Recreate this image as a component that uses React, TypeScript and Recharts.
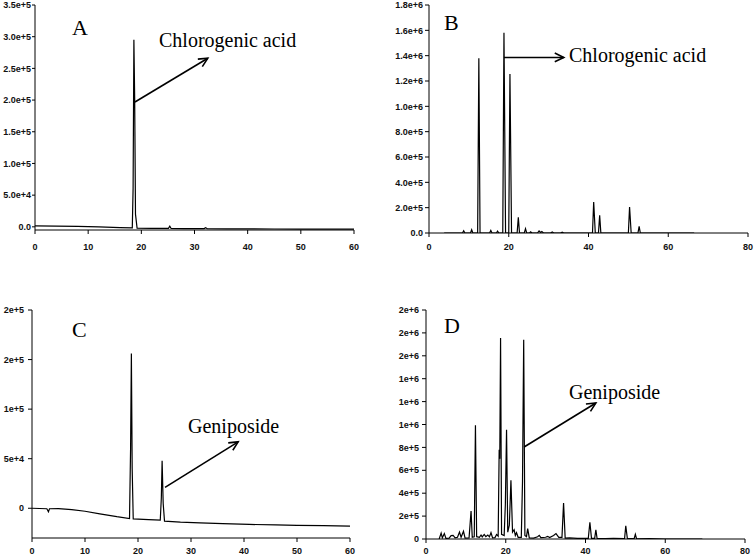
import React from 'react';
import { LineChart, Line, XAxis, YAxis, ReferenceLine } from 'recharts';

// retention time (min) and signal
const aTime = [0, 4, 8, 12, 16, 18.3, 18.45, 18.6, 18.75, 18.9, 19.2, 22, 25.1, 25.35, 25.6, 28, 31.8, 32.1, 32.4, 36, 40, 45, 50, 55, 60];
const aSignal = [1500, 1200, 600, -200, -1200, -1500, 60000, 295000, 200000, 20000, -2000, -2300, -2300, 1000, -2600, -2700, -2800, -1500, -3000, -3200, -3300, -3400, -3500, -3600, -3700];

const bTime = [3.8, 8.4, 8.7, 9.0, 10.4, 10.7, 11.0, 12.2, 12.5, 12.8, 15.2, 15.5, 15.8, 16.9, 17.2, 17.5, 18.5, 18.8, 19.2, 20.0, 20.3, 20.7, 22.1, 22.4, 22.7, 23.9, 24.2, 24.5, 25.2, 25.5, 25.8, 27.2, 27.6, 28.0, 28.3, 28.7, 30.5, 30.9, 31.3, 33.0, 33.4, 33.8, 41.0, 41.3, 41.7, 42.5, 42.8, 43.1, 50.0, 50.3, 50.7, 52.4, 52.7, 53.0, 66.5];
const bSignal = [0, 0, 18000, 0, 0, 26000, 0, 0, 1380000, 0, 0, 21000, 0, 0, 15000, 0, 0, 1580000, 0, 0, 1255000, 0, 0, 123000, 0, 0, 34000, 0, 0, 9000, 0, 0, 16000, 4000, 12000, 0, 0, 8000, 0, 0, 6000, 0, 0, 244000, 0, 0, 139000, 0, 0, 205000, 0, 0, 52000, 0, 0];

const cTime = [0, 2.8, 3.1, 3.3, 5, 7.5, 10, 12.8, 16, 18.4, 18.6, 18.75, 18.9, 19.1, 22, 24.2, 24.4, 24.55, 24.75, 25, 28, 31.7, 36, 41, 46, 50, 55, 60];
const cSignal = [0, -500, -3500, -500, -300, -1300, -3000, -5700, -8500, -10300, 60000, 156000, 40000, -10700, -11500, -12000, 10000, 48000, 5000, -13000, -14000, -14700, -15500, -16300, -16800, -17200, -17600, -18000];

const dTime = [3.3, 3.8, 4.1, 4.6, 5.0, 5.8, 6.3, 6.8, 7.3, 7.9, 8.4, 8.8, 9.4, 9.8, 10.8, 11.3, 11.6, 12.1, 12.4, 12.7, 13.4, 13.8, 14.1, 14.6, 15.0, 15.5, 15.9, 16.3, 16.7, 17.3, 17.7, 18.1, 18.35, 18.5, 18.7, 18.95, 19.6, 19.9, 20.2, 20.5, 20.9, 21.3, 21.7, 22.1, 22.4, 22.7, 23.1, 23.9, 24.2, 24.5, 24.8, 25.2, 25.5, 25.9, 27, 28.0, 28.4, 28.8, 30.0, 30.5, 31.0, 32.0, 32.6, 33.3, 34.1, 34.5, 34.9, 36, 38, 40.7, 41.1, 41.5, 42.3, 42.6, 42.9, 45, 47, 49.8, 50.1, 50.5, 52.2, 52.5, 52.8, 56, 60, 69.3];
const dSignal = [0, 52000, 10000, 47000, 5000, 8000, 30000, 32000, 10000, 15000, 61000, 15000, 67000, 8000, 10000, 245000, 15000, 20000, 993000, 20000, 15000, 35000, 18000, 40000, 20000, 35000, 18000, 55000, 10000, 12000, 40000, 25000, 780000, 700000, 1755000, 40000, 30000, 300000, 955000, 60000, 120000, 512000, 60000, 81000, 30000, 55000, 15000, 15000, 500000, 1741000, 30000, 20000, 90000, 10000, 8000, 20000, 32000, 12000, 15000, 23000, 12000, 30000, 47000, 15000, 15000, 314000, 8000, 10000, 5000, 5000, 146000, 5000, 5000, 81000, 5000, 3000, 5000, 3000, 116000, 3000, 3000, 41000, 2000, 3000, 0, 0];

const ticks60 = [0, 10, 20, 30, 40, 50, 60];
const ticks80 = [0, 20, 40, 60, 80];
const aTicks = [0, 50000, 100000, 150000, 200000, 250000, 300000, 350000];
const bTicks = [0, 200000, 400000, 600000, 800000, 1000000, 1200000, 1400000, 1600000, 1800000];
const cTicks = [0, 50000, 100000, 150000, 200000];
const dTicks = [0, 200000, 400000, 600000, 800000, 1000000, 1200000, 1400000, 1600000, 1800000, 2000000];

const toRows = (t: number[], s: number[]) => t.map((x, i) => ({ t: x, v: s[i] }));

const fmt1 = (v: number) => (v === 0 ? '0.0' : v.toExponential(1));
const fmt0 = (v: number) => (v === 0 ? '0' : v.toExponential(0));

const tickFont = { fontSize: 9, fontWeight: 700, fill: '#111', fontFamily: 'Liberation Sans, Arial, sans-serif' };

// line with an open arrow head at the far end
const Arrow = (p: any) => {
  const { x1, y1, x2, y2 } = p;
  const ang = Math.atan2(y2 - y1, x2 - x1);
  const len = 10;
  const spread = 0.45;
  const h1x = x2 - len * Math.cos(ang - spread);
  const h1y = y2 - len * Math.sin(ang - spread);
  const h2x = x2 - len * Math.cos(ang + spread);
  const h2y = y2 - len * Math.sin(ang + spread);
  return (
    <g stroke="#000" strokeWidth={1.6} fill="none">
      <line x1={x1} y1={y1} x2={x2} y2={y2} />
      <polyline points={`${h1x},${h1y} ${x2},${y2} ${h2x},${h2y}`} />
    </g>
  );
};

interface PanelProps {
  left: number; top: number; width: number; height: number;
  margin: { top: number; right: number; left: number; bottom: number };
  yWidth: number; xHeight: number;
  data: { t: number; v: number }[];
  xDomain: [number, number]; xTicks: number[];
  yDomain: [number, number]; yTicks: number[];
  fmt: (v: number) => string;
  xGap: number; yTick: number; yGap: number;
  arrow: [{ x: number; y: number }, { x: number; y: number }];
}

const Panel: React.FC<PanelProps> = (p) => (
  <div style={{ position: 'absolute', left: p.left, top: p.top }}>
    <LineChart width={p.width} height={p.height} data={p.data} margin={p.margin}>
      <XAxis dataKey="t" type="number" domain={p.xDomain} ticks={p.xTicks} allowDataOverflow
        axisLine={{ stroke: '#000' }} tickLine={{ stroke: '#000' }} tickSize={4} tickMargin={p.xGap}
        height={p.xHeight} tick={tickFont} />
      <YAxis type="number" domain={p.yDomain} ticks={p.yTicks} allowDataOverflow width={p.yWidth}
        axisLine={{ stroke: '#000' }} tickLine={{ stroke: '#000' }} tickSize={p.yTick} tickMargin={p.yGap}
        tickFormatter={p.fmt} tick={tickFont} interval={0} />
      <Line type="linear" dataKey="v" stroke="#000" strokeWidth={1.2} dot={false} isAnimationActive={false} />
      <ReferenceLine segment={p.arrow} shape={Arrow} />
    </LineChart>
  </div>
);

const serif = 'Liberation Serif, Times New Roman, serif';

export default function App() {
  return (
    <div style={{ position: 'absolute', left: 0, top: 0, width: 756, height: 558, background: '#fff', overflow: 'hidden' }}>
      <Panel left={0} top={0} width={360} height={258} margin={{ top: 5, right: 6, left: 0, bottom: 0 }}
        yWidth={35} xHeight={28} data={toRows(aTime, aSignal)} xDomain={[0, 60]} xTicks={ticks60}
        yDomain={[-5000, 350000]} yTicks={aTicks} fmt={fmt1} xGap={10} yTick={3} yGap={1}
        arrow={[{ x: 18.8, y: 197000 }, { x: 32.5, y: 266000 }]} />
      <Panel left={376} top={0} width={378} height={261} margin={{ top: 5, right: 6, left: 0, bottom: 0 }}
        yWidth={53} xHeight={28} data={toRows(bTime, bSignal)} xDomain={[0, 80]} xTicks={ticks80}
        yDomain={[0, 1800000]} yTicks={bTicks} fmt={fmt1} xGap={7} yTick={4} yGap={2}
        arrow={[{ x: 18.8, y: 1386000 }, { x: 33.8, y: 1386000 }]} />
      <Panel left={0} top={280} width={356} height={278} margin={{ top: 30, right: 6, left: 0, bottom: 0 }}
        yWidth={32} xHeight={20} data={toRows(cTime, cSignal)} xDomain={[0, 60]} xTicks={ticks60}
        yDomain={[-30000, 200000]} yTicks={cTicks} fmt={fmt0} xGap={6} yTick={4} yGap={4}
        arrow={[{ x: 25.1, y: 21000 }, { x: 38.9, y: 67000 }]} />
      <Panel left={376} top={280} width={375} height={278} margin={{ top: 30, right: 6, left: 0, bottom: 0 }}
        yWidth={50} xHeight={19} data={toRows(dTime, dSignal)} xDomain={[0, 80]} xTicks={ticks80}
        yDomain={[0, 2000000]} yTicks={dTicks} fmt={fmt0} xGap={5} yTick={4} yGap={3}
        arrow={[{ x: 24.6, y: 803000 }, { x: 42.6, y: 1188000 }]} />
      <svg width={756} height={558} style={{ position: 'absolute', left: 0, top: 0, pointerEvents: 'none' }}>
        <g fontFamily={serif} fill="#000">
          <text x={72} y={35} fontSize={22}>A</text>
          <text x={159} y={47} fontSize={20}>Chlorogenic acid</text>
          <text x={444} y={30} fontSize={22}>B</text>
          <text x={569} y={62} fontSize={20}>Chlorogenic acid</text>
          <text x={72} y={337} fontSize={22}>C</text>
          <text x={188} y={433} fontSize={20}>Geniposide</text>
          <text x={444} y={333} fontSize={22}>D</text>
          <text x={569} y={399} fontSize={20}>Geniposide</text>
        </g>
      </svg>
    </div>
  );
}
